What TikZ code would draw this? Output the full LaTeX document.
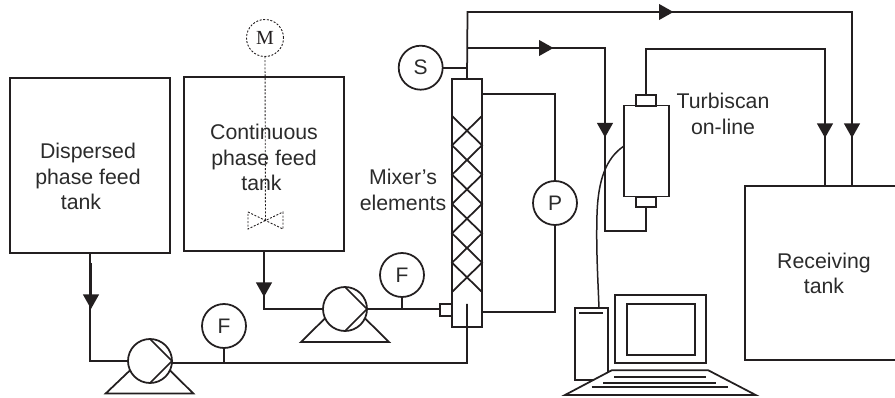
\documentclass[tikz,border=0pt]{standalone}
\usepackage{fontspec}
\setmainfont{Liberation Sans}
\newfontfamily\motorfont{Liberation Serif}
\usetikzlibrary{arrows.meta,calc}
\definecolor{ink}{HTML}{231F20}
\definecolor{txt}{HTML}{2B2B2B}
\tikzset{
  ln/.style={draw=ink,line width=1.75pt,line join=miter},
  thin ln/.style={draw=ink,line width=1.5pt},
  boxn/.style={ln,rectangle,inner sep=0pt,outer sep=0pt,minimum width=#1},
  instr/.style={ln,circle,inner sep=0pt,outer sep=0pt,minimum size=44pt,text=txt,font=\fontsize{21}{24}\selectfont},
  pumpn/.style={ln,circle,inner sep=0pt,outer sep=0pt,minimum size=44pt},
  lab/.style={align=center,text=txt,inner sep=0pt,font=\fontsize{21.3}{25.7}\selectfont},
  flow/.style={draw=ink,line width=2.4pt,-{Triangle[length=14.5pt,width=15.5pt,fill=ink]}},
  dots/.style={draw=ink,line width=0.9pt,dash pattern=on 2pt off 1.6pt},
}
\begin{document}
\begin{tikzpicture}[x=1pt,y=-1pt]
\useasboundingbox (0,0) rectangle (895,398);
% tanks
\node[boxn=160pt,minimum height=175pt] (disp) at (90,165.5) {};
\node[boxn=160pt,minimum height=174.5pt] (cont) at (264,164) {};
\node[instr,dots,minimum size=37pt,text=ink,font=\motorfont\fontsize{20}{24}\selectfont] (motor) at (265,38) {M};
\coordinate (bow) at (265.5,220.5);
\draw[dots] (motor.south) -- (bow);
\draw[dots] (248,212) -- (283,229) -- (283,212) -- (248,229) -- cycle;
\node[lab] (displab) at (88,176.5) {Dispersed\\phase feed\\tank\hspace*{14pt}};
\node[lab] (contlab) at (264,157.5) {Continuous\\phase feed\\tank\hspace*{5pt}};
% pumps
\node[pumpn] (pa) at (150,361) {};
\node[pumpn] (pb) at (345,309) {};
\coordinate (pal) at (105.7,393.5); \coordinate (par) at (193.3,393.5);
\coordinate (pbl) at (301,342); \coordinate (pbr) at (389,342);
\draw[ln] (pa.205) -- (pal) -- (par) -- (pa.-25);
\draw[ln] (pb.205) -- (pbl) -- (pbr) -- (pb.-25);
\draw[ln] (pa.north) -- (pa.east) -- (pa.south);
\draw[ln] (pb.north) -- (pb.east) -- (pb.south);
% instruments
\node[instr] (fa) at (224,326) {F};
\node[instr] (fb) at (402,275) {F};
\node[instr] (press) at (555,203) {P};
\node[instr] (speed) at (420.7,67.7) {S};
% mixer
\node[boxn=30pt,minimum height=248pt] (mixer) at (467,203) {};
\node[boxn=12pt,minimum height=12pt] (valve) at (446,310) {};
\draw[ln] (452,116) -- (482,145.3) -- (452,174.7) -- (482,204) -- (452,233.3) -- (482,262.7) -- (452,292);
\draw[ln] (482,116) -- (452,145.3) -- (482,174.7) -- (452,204) -- (482,233.3) -- (452,262.7) -- (482,292);
\node[lab] (mixlab) at (403,190) {Mixer’s\\elements};
% feed lines
\coordinate (inj) at (467,304);
\coordinate (low) at (467,363);
\draw[ln] (disp.south) |- (pa.west);
\draw[ln] (cont.south) |- (pb.west);
\draw[ln] (pa.-5) -- (low) -- (inj);
\draw[ln] (pb.east) -- (valve.west |- pb.east);
\draw[ln] (fa.south) -- (fa.south |- low);
\draw[ln] (fb.south) -- (fb.south |- pb.east);
\coordinate (fla) at (91,263); \coordinate (flb) at (91,309);
\coordinate (flc) at (264,252); \coordinate (fld) at (264,297);
\draw[flow] (fla) -- (flb);
\draw[flow] (flc) -- (fld);
% pressure loop
\coordinate (mixt) at (482,94); \coordinate (mixb) at (482,312);
\draw[ln] (mixt) -| (press.north);
\draw[ln] (press.south) |- (mixb);
% turbiscan
\node[boxn=45pt,minimum height=91pt] (turb) at (646.5,151) {};
\node[boxn=20.5pt,minimum height=10.7pt] (capt) at (646,100.3) {};
\node[boxn=20.5pt,minimum height=10.3pt] (capb) at (646,202) {};
\node[lab] (turblab) at (723,113.7) {Turbiscan\\on-line};
% receiving tank
\coordinate (rtr) at (895,186); \coordinate (rtl) at (745,186);
\coordinate (rbl) at (745,360); \coordinate (rbr) at (895,360);
\draw[ln] (rtr) -- (rtl) -- (rbl) -- (rbr);
\node[lab] (reclab) at (824,273.5) {Receiving\\tank};
% outlet lines
\coordinate (ta) at (467.5,12); \coordinate (tb) at (852,12);
\coordinate (ma) at (467.5,48); \coordinate (mb) at (605,48); \coordinate (mc) at (605,231);
\coordinate (ra) at (645.5,49); \coordinate (rb) at (825,49);
\coordinate (ena) at (825,186); \coordinate (enb) at (852,186);
\draw[ln] (mixer.north) -- (ta) -- (tb) -- (enb);
\draw[ln] (ma) -- (mb) -- (mc) -| (capb.south);
\draw[ln] (capt.north) -- (capt.north |- ra) -- (rb) -- (ena);
\draw[ln] (speed.east) -- (speed.east -| ma);
\coordinate (a1) at (630,12); \coordinate (a2) at (673.5,12);
\coordinate (b1) at (508,48); \coordinate (b2) at (553.5,48);
\coordinate (c1) at (605,92); \coordinate (c2) at (605,137.5);
\coordinate (d1) at (825,93); \coordinate (d2) at (825,138);
\coordinate (e1) at (852,93); \coordinate (e2) at (852,138);
\foreach \s/\t in {a1/a2,b1/b2,c1/c2,d1/d2,e1/e2} \draw[flow] (\s) -- (\t);
% computer
\node[boxn=32.4pt,minimum height=71.7pt] (tower) at (591.5,344.2) {};
\coordinate (tla) at (579.3,313); \coordinate (tlb) at (603.3,313);
\draw[ln] (tla) -- (tlb);
\coordinate (cbs) at (624,146); \coordinate (cbm) at (597,215); \coordinate (cbe) at (599,308.3);
\draw[thin ln] (cbs) .. controls (606,158) and (598,180) .. (cbm) .. controls (596,250) and (598,280) .. (cbe);
\node[boxn=90.7pt,minimum height=68.3pt] (mon) at (660.3,328.8) {};
\node[boxn=68.3pt,minimum height=51.3pt] (scr) at (661.2,329.7) {};
\filldraw[ln,fill=white] (611.7,370.3) -- (708.3,370.3) -- (755.7,395) -- (565,395) -- cycle;
\draw[ln] (614,376.7) -- (706,376.7);
\draw[ln] (603.3,382.7) -- (715.7,382.7);
\draw[ln] (591.7,387.3) -- (728.3,387.3);
\end{tikzpicture}
\end{document}
